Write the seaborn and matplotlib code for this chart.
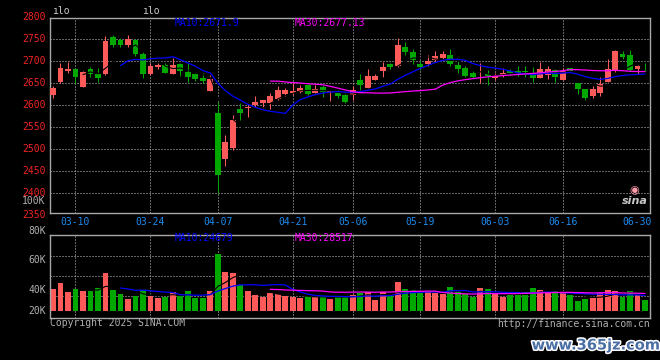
# %% 1. Libraries
# ----------------------------------------------------------------------------
import numpy as np
import pandas as pd
import matplotlib
matplotlib.use('Agg')
import matplotlib.pyplot as plt
import matplotlib.patheffects as pe
import seaborn as sns

# %% 2. Daily bars (80 sessions, 03-05 .. 07-01)
# ----------------------------------------------------------------------------
open_ = [2623, 2652, 2678, 2683, 2642, 2683, 2671, 2671, 2755, 2749,
         2736, 2749, 2717, 2671, 2688, 2692, 2672, 2694, 2675, 2671,
         2663, 2633, 2583, 2479, 2502, 2592, 2593, 2601, 2606, 2605,
         2614, 2626, 2628, 2630, 2646, 2628, 2642, 2631, 2627, 2623,
         2623, 2658, 2640, 2658, 2678, 2693, 2689, 2732, 2721, 2693,
         2693, 2703, 2708, 2714, 2692, 2685, 2674, 2673, 2671, 2661,
         2669, 2677, 2677, 2677, 2674, 2663, 2669, 2680, 2658, 2684,
         2650, 2637, 2622, 2627, 2654, 2677, 2717, 2714, 2683, 2688]
high = [2644, 2697, 2698, 2685, 2677, 2688, 2685, 2758, 2760, 2752,
        2760, 2750, 2721, 2696, 2697, 2697, 2708, 2697, 2696, 2674,
        2673, 2670, 2608, 2532, 2578, 2605, 2602, 2621, 2613, 2629,
        2645, 2639, 2654, 2646, 2647, 2646, 2646, 2635, 2635, 2631,
        2643, 2671, 2682, 2671, 2699, 2697, 2752, 2743, 2727, 2701,
        2714, 2724, 2724, 2728, 2701, 2689, 2678, 2696, 2680, 2673,
        2684, 2683, 2689, 2689, 2687, 2699, 2689, 2682, 2684, 2685,
        2650, 2638, 2644, 2664, 2705, 2725, 2724, 2726, 2692, 2696]
low = [2617, 2651, 2674, 2650, 2642, 2664, 2652, 2670, 2732, 2733,
       2732, 2711, 2663, 2670, 2682, 2673, 2671, 2667, 2652, 2656,
       2650, 2632, 2400, 2463, 2498, 2567, 2574, 2596, 2595, 2592,
       2612, 2621, 2624, 2627, 2624, 2627, 2619, 2610, 2616, 2606,
       2612, 2635, 2640, 2657, 2665, 2682, 2686, 2714, 2693, 2680,
       2689, 2699, 2703, 2689, 2674, 2665, 2661, 2650, 2646, 2658,
       2665, 2669, 2667, 2665, 2654, 2662, 2660, 2654, 2657, 2676,
       2626, 2612, 2617, 2622, 2653, 2676, 2705, 2679, 2671, 2679]
close = [2639, 2685, 2683, 2665, 2676, 2671, 2663, 2746, 2736, 2737,
         2751, 2717, 2671, 2689, 2692, 2674, 2692, 2677, 2664, 2660,
         2655, 2660, 2442, 2517, 2567, 2583, 2597, 2608, 2611, 2622,
         2635, 2635, 2633, 2640, 2626, 2637, 2630, 2633, 2622, 2608,
         2635, 2646, 2667, 2667, 2687, 2688, 2737, 2722, 2703, 2688,
         2701, 2712, 2717, 2693, 2683, 2667, 2665, 2674, 2667, 2667,
         2674, 2674, 2673, 2675, 2661, 2683, 2683, 2665, 2679, 2679,
         2637, 2617, 2637, 2648, 2683, 2724, 2709, 2680, 2689, 2686]
# volume in K, on the chart's own (odd) scale
volume_k = [37.4, 42.1, 35.0, 37.4, 35.8, 35.8, 38.1, 50.0, 36.6, 33.4,
            29.5, 31.8, 36.6, 31.8, 30.3, 31.0, 35.0, 32.6, 35.8, 30.3,
            30.3, 35.8, 65.0, 50.8, 50.0, 40.5, 35.8, 32.6, 31.0, 34.2,
            33.4, 31.8, 31.0, 30.3, 31.8, 31.0, 31.8, 29.5, 31.0, 31.8,
            32.6, 33.9, 35.0, 28.7, 35.0, 31.8, 42.9, 37.4, 36.6, 33.9,
            34.7, 34.5, 33.2, 38.9, 36.6, 33.4, 31.0, 38.1, 37.4, 33.9,
            31.0, 32.6, 32.6, 35.0, 38.1, 36.6, 33.9, 35.8, 33.9, 32.6,
            27.9, 29.5, 30.3, 34.2, 36.6, 35.8, 31.0, 35.8, 32.6, 28.7]

tick_idx = [3, 13, 22, 32, 40, 49, 59, 68, 78]
tick_labels = ['03-10', '03-24', '04-07', '04-21', '05-06',
               '05-19', '06-03', '06-16', '06-30']
price_levels = [2800, 2750, 2700, 2650, 2600, 2550, 2500, 2450, 2400, 2350]
vol_labels = ['80K', '60K', '40K', '20K']

# header texts as printed on the chart
price_ma10_txt = 'MA10:2671.9'
price_ma30_txt = 'MA30:2677.13'
vol_ma10_txt = 'MA10:24679'
vol_ma30_txt = 'MA30:28517'

# %% 3. Frame + moving averages
# ----------------------------------------------------------------------------
df = pd.DataFrame({'open': open_, 'high': high, 'low': low,
                   'close': close, 'vol': volume_k})
df['x'] = np.arange(len(df))
df['up'] = df['close'] >= df['open']
for n in (5, 10, 30):
    df[f'ma{n}'] = df['close'].rolling(n).mean()
    df[f'vma{n}'] = df['vol'].rolling(n).mean()

# %% 4. Styling
# ----------------------------------------------------------------------------
sns.set_style('dark', {'axes.facecolor': 'black', 'figure.facecolor': 'black'})
plt.rcParams['font.family'] = ['DejaVu Sans Mono', 'DejaVu Sans']
plt.rcParams['font.size'] = 7

up_c = '#ff5a5a'
down_c = '#00a800'
blue_c = '#0000ff'
mag_c = '#ff00ff'
grid_c = '#c8c8c8'
frame_c = '#a8a8a8'
gray_txt = '#b0b0b0'
date_c = '#1c8cf0'
price_txt = '#f02424'
dots = (0, (1, 2))

colors = np.where(df['up'], up_c, down_c)

W, H = 660, 360
fig = plt.figure(figsize=(W / 100, H / 100), dpi=100, facecolor='black')
ax_p = fig.add_axes([50 / W, 1 - 213.3 / H, 600 / W, (213.3 - 18) / H])
ax_v = fig.add_axes([50 / W, 1 - 318 / H, 600 / W, (318 - 234.7) / H])

xlim = (-0.4, 79.66)

# %% 5. Price panel
# ----------------------------------------------------------------------------
ax_p.set_xlim(xlim)
ax_p.set_ylim(2354.5, 2798.5)

for lvl in price_levels[1:-1]:
    ax_p.axhline(lvl, color=grid_c, lw=0.72, ls=dots, zorder=1)
for t in tick_idx[:-1]:
    ax_p.axvline(t, color=grid_c, lw=0.72, ls=dots, zorder=1)

body_lo = np.minimum(df['open'], df['close'])
body_h = np.maximum((df['close'] - df['open']).abs(), 1.5)
ax_p.vlines(df['x'], df['low'], df['high'], colors=colors, lw=0.75, zorder=2)
ax_p.bar(df['x'], body_h, bottom=body_lo, width=0.78, color=colors,
         lw=0, zorder=3)

sns.lineplot(data=df, x='x', y='ma5', ax=ax_p, color='black', lw=0.8,
             estimator=None, legend=False, zorder=4)
sns.lineplot(data=df, x='x', y='ma10', ax=ax_p, color=blue_c, lw=0.9,
             estimator=None, legend=False, zorder=5)
sns.lineplot(data=df, x='x', y='ma30', ax=ax_p, color=mag_c, lw=0.9,
             estimator=None, legend=False, zorder=5)

ax_p.set_xlabel('')
ax_p.set_ylabel('')
ax_p.set_xticks(tick_idx)
ax_p.set_xticklabels(tick_labels)
ax_p.tick_params(axis='x', length=0, colors=date_c, labelsize=7, pad=2.5)
ax_p.set_yticks([])

# price labels on the left, red
for lvl in price_levels:
    ax_p.text(-0.007, lvl, str(lvl), transform=ax_p.get_yaxis_transform(),
              ha='right', va='center', color=price_txt, fontsize=7)
ax_p.text(-0.007, 0.065, '100K', transform=ax_p.transAxes, ha='right',
          va='center', color=gray_txt, fontsize=7)

ax_p.text(0.2083, 0.972, price_ma10_txt, transform=ax_p.transAxes,
          color=blue_c, va='center', fontsize=7)
ax_p.text(0.408, 0.972, price_ma30_txt, transform=ax_p.transAxes,
          color=mag_c, va='center', fontsize=7)

for side in ax_p.spines.values():
    side.set_color(frame_c)
    side.set_linewidth(1.0)

# %% 6. Volume panel
# ----------------------------------------------------------------------------
ax_v.set_xlim(xlim)
v_lo, v_hi = 14.5, 80.2
ax_v.set_ylim(v_lo, v_hi)

for f in (0.27, 0.51, 0.75):
    ax_v.axhline(v_lo + f * (v_hi - v_lo), color=grid_c, lw=0.72, ls=dots,
                 zorder=1)
for t in tick_idx[:-1]:
    ax_v.axvline(t, color=grid_c, lw=0.72, ls=dots, zorder=1)

vol_base = 20
ax_v.bar(df['x'], df['vol'] - vol_base, bottom=vol_base, width=0.78,
         color=colors, lw=0, zorder=2)

sns.lineplot(data=df, x='x', y='vma5', ax=ax_v, color='black', lw=0.8,
             estimator=None, legend=False, zorder=3)
sns.lineplot(data=df, x='x', y='vma10', ax=ax_v, color=blue_c, lw=0.9,
             estimator=None, legend=False, zorder=4)
sns.lineplot(data=df, x='x', y='vma30', ax=ax_v, color=mag_c, lw=0.9,
             estimator=None, legend=False, zorder=4)

ax_v.set_xlabel('')
ax_v.set_ylabel('')
ax_v.set_xticks([])
ax_v.set_yticks([])

for lab, yf in zip(vol_labels, (1.05, 0.70, 0.34, 0.08)):
    ax_v.text(-0.007, yf, lab, transform=ax_v.transAxes, ha='right',
              va='center', color=gray_txt, fontsize=7)

ax_v.text(0.2083, 0.955, vol_ma10_txt, transform=ax_v.transAxes,
          color=blue_c, va='center', fontsize=7)
ax_v.text(0.408, 0.955, vol_ma30_txt, transform=ax_v.transAxes,
          color=mag_c, va='center', fontsize=7)

for side in ax_v.spines.values():
    side.set_color(frame_c)
    side.set_linewidth(1.0)

# %% 7. Footer, icons, watermark
# ----------------------------------------------------------------------------
fig.text(52 / W, 1 - 11.5 / H, 'ılo', color='#c8c8c8', fontsize=7,
         va='center')
fig.text(142 / W, 1 - 11.5 / H, 'ılo', color='#c8c8c8', fontsize=7,
         va='center')
fig.text(50 / W, 1 - 323.5 / H, 'Copyright 2025 SINA.COM', color=gray_txt,
         fontsize=7, va='center')
fig.text(650 / W, 1 - 324 / H, 'http://finance.sina.com.cn', color=gray_txt,
         fontsize=7, va='center', ha='right')

fig.text(634 / W, 1 - 190 / H, '◉', color='#ff9aa8', fontsize=8,
         ha='center', va='center', family='DejaVu Sans')
fig.text(635 / W, 1 - 201 / H, 'sina', color='#c8c8c8', fontsize=8,
         ha='center', va='center', family='DejaVu Sans', weight='bold',
         style='italic')

wm = fig.text(596 / W, 1 - 345 / H, 'www.365jz.com', color='#4a6fa5',
              fontsize=10.5, ha='center', va='center', family='DejaVu Sans',
              weight='bold')
wm.set_path_effects([pe.withStroke(linewidth=2.2, foreground='white')])

fig.savefig('out.png', dpi=100, facecolor='black')
